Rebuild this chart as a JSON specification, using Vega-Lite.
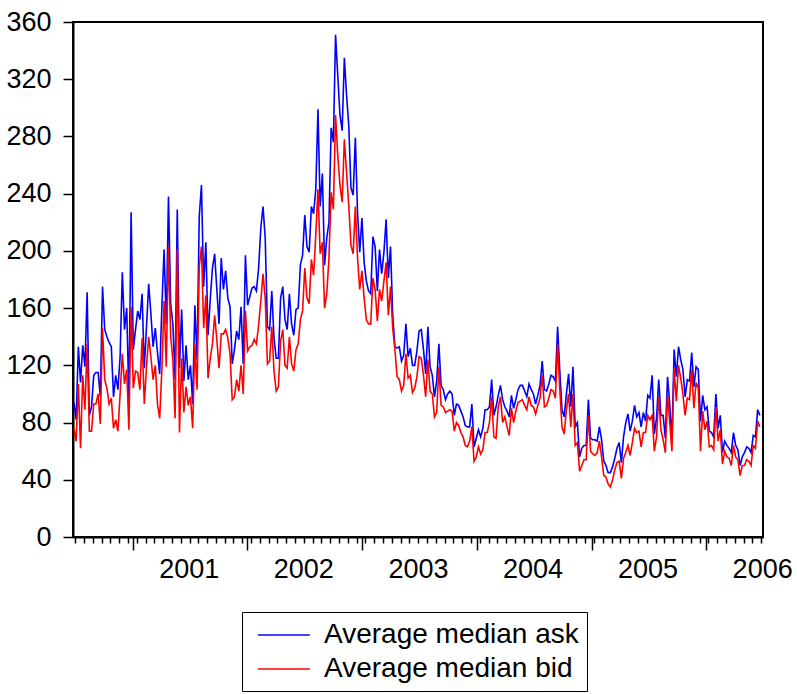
{
"$schema": "https://vega.github.io/schema/vega-lite/v6.json",
"width": 690, "height": 515,
"autosize": "none",
"padding": {"left": 73, "top": 22, "right": 34, "bottom": 157},
"config": {
 "view": {"stroke": "black", "strokeWidth": 2},
 "font": "Liberation Sans",
 "axis": {"grid": false, "domainColor": "black", "domainWidth": 2, "tickColor": "black", "tickWidth": 1.5, "labelColor": "black", "labelFont": "Liberation Sans", "labelFontSize": 27, "title": null}
},
"data": {"values": [
{"date":"2000-06-28","ask":94,"bid":76},{"date":"2000-07-05","ask":82,"bid":67},{"date":"2000-07-12","ask":133,"bid":107},{"date":"2000-07-19","ask":108,"bid":62},{"date":"2000-07-26","ask":134,"bid":113},
{"date":"2000-08-02","ask":119,"bid":89},{"date":"2000-08-09","ask":171,"bid":135},{"date":"2000-08-16","ask":85,"bid":74},{"date":"2000-08-23","ask":91,"bid":74},{"date":"2000-08-30","ask":113,"bid":93},
{"date":"2000-09-06","ask":115,"bid":93},{"date":"2000-09-13","ask":115,"bid":100},{"date":"2000-09-20","ask":98,"bid":79},{"date":"2000-09-27","ask":175,"bid":146},
{"date":"2000-10-04","ask":145,"bid":110},{"date":"2000-10-11","ask":140,"bid":104},{"date":"2000-10-18","ask":136,"bid":93},{"date":"2000-10-25","ask":133,"bid":97},
{"date":"2000-11-01","ask":98,"bid":76},{"date":"2000-11-08","ask":113,"bid":82},{"date":"2000-11-15","ask":103,"bid":74},{"date":"2000-11-22","ask":126,"bid":100},{"date":"2000-11-29","ask":185,"bid":128},
{"date":"2000-12-06","ask":145,"bid":107},{"date":"2000-12-13","ask":160,"bid":117},{"date":"2000-12-20","ask":96,"bid":75},{"date":"2000-12-27","ask":227,"bid":161},
{"date":"2001-01-03","ask":131,"bid":104},{"date":"2001-01-10","ask":145,"bid":116},{"date":"2001-01-17","ask":158,"bid":115},{"date":"2001-01-24","ask":152,"bid":103},{"date":"2001-01-31","ask":170,"bid":139},
{"date":"2001-02-07","ask":118,"bid":93},{"date":"2001-02-14","ask":147,"bid":119},{"date":"2001-02-21","ask":177,"bid":140},{"date":"2001-02-28","ask":156,"bid":126},
{"date":"2001-03-07","ask":133,"bid":110},{"date":"2001-03-14","ask":146,"bid":120},{"date":"2001-03-21","ask":129,"bid":93},{"date":"2001-03-28","ask":114,"bid":83},
{"date":"2001-04-04","ask":161,"bid":117},{"date":"2001-04-11","ask":201,"bid":165},{"date":"2001-04-18","ask":149,"bid":119},{"date":"2001-04-25","ask":238,"bid":203},
{"date":"2001-05-02","ask":163,"bid":140},{"date":"2001-05-09","ask":149,"bid":124},{"date":"2001-05-16","ask":110,"bid":83},{"date":"2001-05-23","ask":229,"bid":201},{"date":"2001-05-30","ask":118,"bid":73},
{"date":"2001-06-06","ask":159,"bid":125},{"date":"2001-06-13","ask":109,"bid":87},{"date":"2001-06-20","ask":134,"bid":105},{"date":"2001-06-27","ask":110,"bid":92},
{"date":"2001-07-04","ask":120,"bid":98},{"date":"2001-07-11","ask":93,"bid":76},{"date":"2001-07-18","ask":162,"bid":135},{"date":"2001-07-25","ask":124,"bid":103},
{"date":"2001-08-01","ask":224,"bid":189},{"date":"2001-08-08","ask":246,"bid":203},{"date":"2001-08-15","ask":175,"bid":146},{"date":"2001-08-22","ask":206,"bid":169},{"date":"2001-08-29","ask":141,"bid":111},
{"date":"2001-09-05","ask":166,"bid":125},{"date":"2001-09-12","ask":188,"bid":135},{"date":"2001-09-19","ask":198,"bid":155},{"date":"2001-09-26","ask":173,"bid":138},
{"date":"2001-10-03","ask":149,"bid":118},{"date":"2001-10-10","ask":195,"bid":142},{"date":"2001-10-17","ask":173,"bid":142},{"date":"2001-10-24","ask":186,"bid":145},{"date":"2001-10-31","ask":167,"bid":139},
{"date":"2001-11-07","ask":161,"bid":128},{"date":"2001-11-14","ask":121,"bid":96},{"date":"2001-11-21","ask":131,"bid":98},{"date":"2001-11-28","ask":144,"bid":110},
{"date":"2001-12-05","ask":138,"bid":102},{"date":"2001-12-12","ask":161,"bid":120},{"date":"2001-12-19","ask":121,"bid":100},{"date":"2001-12-26","ask":197,"bid":158},
{"date":"2002-01-02","ask":162,"bid":130},{"date":"2002-01-09","ask":168,"bid":133},{"date":"2002-01-16","ask":174,"bid":134},{"date":"2002-01-23","ask":175,"bid":138},{"date":"2002-01-30","ask":172,"bid":135},
{"date":"2002-02-06","ask":188,"bid":148},{"date":"2002-02-13","ask":216,"bid":165},{"date":"2002-02-20","ask":231,"bid":184},{"date":"2002-02-27","ask":209,"bid":167},
{"date":"2002-03-06","ask":147,"bid":121},{"date":"2002-03-13","ask":145,"bid":123},{"date":"2002-03-20","ask":172,"bid":147},{"date":"2002-03-27","ask":139,"bid":116},
{"date":"2002-04-03","ask":125,"bid":102},{"date":"2002-04-10","ask":125,"bid":105},{"date":"2002-04-17","ask":167,"bid":137},{"date":"2002-04-24","ask":175,"bid":145},
{"date":"2002-05-01","ask":152,"bid":120},{"date":"2002-05-08","ask":145,"bid":118},{"date":"2002-05-15","ask":170,"bid":140},{"date":"2002-05-22","ask":149,"bid":121},{"date":"2002-05-29","ask":141,"bid":116},
{"date":"2002-06-05","ask":159,"bid":131},{"date":"2002-06-12","ask":160,"bid":135},{"date":"2002-06-19","ask":190,"bid":152},{"date":"2002-06-26","ask":197,"bid":158},
{"date":"2002-07-03","ask":225,"bid":188},{"date":"2002-07-10","ask":203,"bid":167},{"date":"2002-07-17","ask":199,"bid":163},{"date":"2002-07-24","ask":231,"bid":194},{"date":"2002-07-31","ask":226,"bid":183},
{"date":"2002-08-07","ask":243,"bid":211},{"date":"2002-08-14","ask":299,"bid":243},{"date":"2002-08-21","ask":231,"bid":198},{"date":"2002-08-28","ask":254,"bid":206},
{"date":"2002-09-04","ask":190,"bid":160},{"date":"2002-09-11","ask":209,"bid":170},{"date":"2002-09-18","ask":220,"bid":195},{"date":"2002-09-25","ask":286,"bid":241},
{"date":"2002-10-02","ask":276,"bid":229},{"date":"2002-10-09","ask":351,"bid":295},{"date":"2002-10-16","ask":323,"bid":267},{"date":"2002-10-23","ask":295,"bid":246},{"date":"2002-10-30","ask":284,"bid":234},
{"date":"2002-11-06","ask":335,"bid":278},{"date":"2002-11-13","ask":309,"bid":255},{"date":"2002-11-20","ask":288,"bid":232},{"date":"2002-11-27","ask":244,"bid":204},
{"date":"2002-12-04","ask":239,"bid":198},{"date":"2002-12-11","ask":279,"bid":231},{"date":"2002-12-18","ask":227,"bid":195},{"date":"2002-12-25","ask":199,"bid":173},
{"date":"2003-01-01","ask":223,"bid":186},{"date":"2003-01-08","ask":192,"bid":167},{"date":"2003-01-15","ask":179,"bid":152},{"date":"2003-01-22","ask":172,"bid":149},{"date":"2003-01-29","ask":170,"bid":149},
{"date":"2003-02-05","ask":210,"bid":181},{"date":"2003-02-12","ask":203,"bid":173},{"date":"2003-02-19","ask":172,"bid":151},{"date":"2003-02-26","ask":201,"bid":173},
{"date":"2003-03-05","ask":184,"bid":165},{"date":"2003-03-12","ask":199,"bid":179},{"date":"2003-03-19","ask":222,"bid":192},{"date":"2003-03-26","ask":181,"bid":155},
{"date":"2003-04-02","ask":203,"bid":175},{"date":"2003-04-09","ask":155,"bid":146},{"date":"2003-04-16","ask":133,"bid":131},{"date":"2003-04-23","ask":132,"bid":112},{"date":"2003-04-30","ask":133,"bid":110},
{"date":"2003-05-07","ask":123,"bid":102},{"date":"2003-05-14","ask":127,"bid":106},{"date":"2003-05-21","ask":149,"bid":128},{"date":"2003-05-28","ask":126,"bid":111},
{"date":"2003-06-04","ask":132,"bid":113},{"date":"2003-06-11","ask":120,"bid":101},{"date":"2003-06-18","ask":120,"bid":104},{"date":"2003-06-25","ask":130,"bid":112},
{"date":"2003-07-02","ask":144,"bid":126},{"date":"2003-07-09","ask":145,"bid":125},{"date":"2003-07-16","ask":131,"bid":113},{"date":"2003-07-23","ask":114,"bid":98},{"date":"2003-07-30","ask":147,"bid":124},
{"date":"2003-08-06","ask":119,"bid":102},{"date":"2003-08-13","ask":113,"bid":100},{"date":"2003-08-20","ask":98,"bid":84},{"date":"2003-08-27","ask":109,"bid":87},
{"date":"2003-09-03","ask":135,"bid":119},{"date":"2003-09-10","ask":106,"bid":92},{"date":"2003-09-17","ask":103,"bid":91},{"date":"2003-09-24","ask":96,"bid":87},
{"date":"2003-10-01","ask":100,"bid":88},{"date":"2003-10-08","ask":102,"bid":89},{"date":"2003-10-15","ask":100,"bid":88},{"date":"2003-10-22","ask":85,"bid":74},{"date":"2003-10-29","ask":93,"bid":80},
{"date":"2003-11-05","ask":92,"bid":78},{"date":"2003-11-12","ask":88,"bid":73},{"date":"2003-11-19","ask":84,"bid":70},{"date":"2003-11-26","ask":78,"bid":64},
{"date":"2003-12-03","ask":77,"bid":63},{"date":"2003-12-10","ask":77,"bid":67},{"date":"2003-12-17","ask":93,"bid":77},{"date":"2003-12-24","ask":63,"bid":53},{"date":"2003-12-31","ask":69,"bid":56},
{"date":"2004-01-07","ask":75,"bid":63},{"date":"2004-01-14","ask":70,"bid":58},{"date":"2004-01-21","ask":76,"bid":61},{"date":"2004-01-28","ask":89,"bid":73},
{"date":"2004-02-04","ask":89,"bid":73},{"date":"2004-02-11","ask":91,"bid":80},{"date":"2004-02-18","ask":110,"bid":98},{"date":"2004-02-25","ask":85,"bid":70},
{"date":"2004-03-03","ask":91,"bid":69},{"date":"2004-03-10","ask":99,"bid":91},{"date":"2004-03-17","ask":106,"bid":98},{"date":"2004-03-24","ask":96,"bid":80},{"date":"2004-03-31","ask":91,"bid":84},
{"date":"2004-04-07","ask":88,"bid":77},{"date":"2004-04-14","ask":84,"bid":71},{"date":"2004-04-21","ask":99,"bid":90},{"date":"2004-04-28","ask":90,"bid":80},
{"date":"2004-05-05","ask":96,"bid":88},{"date":"2004-05-12","ask":103,"bid":94},{"date":"2004-05-19","ask":106,"bid":95},{"date":"2004-05-26","ask":106,"bid":96},
{"date":"2004-06-02","ask":102,"bid":92},{"date":"2004-06-09","ask":98,"bid":89},{"date":"2004-06-16","ask":107,"bid":98},{"date":"2004-06-23","ask":103,"bid":92},{"date":"2004-06-30","ask":100,"bid":91},
{"date":"2004-07-07","ask":93,"bid":86},{"date":"2004-07-14","ask":99,"bid":92},{"date":"2004-07-21","ask":106,"bid":97},{"date":"2004-07-28","ask":123,"bid":113},
{"date":"2004-08-04","ask":103,"bid":91},{"date":"2004-08-11","ask":102,"bid":92},{"date":"2004-08-18","ask":107,"bid":97},{"date":"2004-08-25","ask":113,"bid":103},
{"date":"2004-09-01","ask":112,"bid":102},{"date":"2004-09-08","ask":109,"bid":97},{"date":"2004-09-15","ask":147,"bid":135},{"date":"2004-09-22","ask":116,"bid":103},{"date":"2004-09-29","ask":89,"bid":77},
{"date":"2004-10-06","ask":84,"bid":72},{"date":"2004-10-13","ask":100,"bid":89},{"date":"2004-10-20","ask":114,"bid":100},{"date":"2004-10-27","ask":91,"bid":77},
{"date":"2004-11-03","ask":119,"bid":100},{"date":"2004-11-10","ask":77,"bid":64},{"date":"2004-11-17","ask":80,"bid":66},{"date":"2004-11-24","ask":56,"bid":46},
{"date":"2004-12-01","ask":62,"bid":50},{"date":"2004-12-08","ask":64,"bid":54},{"date":"2004-12-15","ask":64,"bid":54},{"date":"2004-12-22","ask":96,"bid":85},{"date":"2004-12-29","ask":69,"bid":60},
{"date":"2005-01-05","ask":68,"bid":58},{"date":"2005-01-12","ask":68,"bid":57},{"date":"2005-01-19","ask":67,"bid":59},{"date":"2005-01-26","ask":77,"bid":67},
{"date":"2005-02-02","ask":68,"bid":56},{"date":"2005-02-09","ask":53,"bid":43},{"date":"2005-02-16","ask":50,"bid":42},{"date":"2005-02-23","ask":45,"bid":37},
{"date":"2005-03-02","ask":45,"bid":35},{"date":"2005-03-09","ask":49,"bid":40},{"date":"2005-03-16","ask":55,"bid":47},{"date":"2005-03-23","ask":62,"bid":52},{"date":"2005-03-30","ask":66,"bid":53},
{"date":"2005-04-06","ask":52,"bid":41},{"date":"2005-04-13","ask":70,"bid":55},{"date":"2005-04-20","ask":80,"bid":59},{"date":"2005-04-27","ask":86,"bid":64},
{"date":"2005-05-04","ask":74,"bid":57},{"date":"2005-05-11","ask":81,"bid":66},{"date":"2005-05-18","ask":92,"bid":76},{"date":"2005-05-25","ask":84,"bid":73},
{"date":"2005-06-01","ask":87,"bid":74},{"date":"2005-06-08","ask":77,"bid":63},{"date":"2005-06-15","ask":87,"bid":73},{"date":"2005-06-22","ask":81,"bid":73},{"date":"2005-06-29","ask":99,"bid":85},
{"date":"2005-07-06","ask":97,"bid":82},{"date":"2005-07-13","ask":113,"bid":85},{"date":"2005-07-20","ask":72,"bid":60},{"date":"2005-07-27","ask":83,"bid":70},
{"date":"2005-08-03","ask":110,"bid":98},{"date":"2005-08-10","ask":85,"bid":75},{"date":"2005-08-17","ask":85,"bid":68},{"date":"2005-08-24","ask":69,"bid":59},{"date":"2005-08-31","ask":112,"bid":99},
{"date":"2005-09-07","ask":93,"bid":80},{"date":"2005-09-14","ask":67,"bid":60},{"date":"2005-09-21","ask":131,"bid":118},{"date":"2005-09-28","ask":112,"bid":95},
{"date":"2005-10-05","ask":133,"bid":120},{"date":"2005-10-12","ask":124,"bid":111},{"date":"2005-10-19","ask":117,"bid":100},{"date":"2005-10-26","ask":98,"bid":85},
{"date":"2005-11-02","ask":110,"bid":97},{"date":"2005-11-09","ask":109,"bid":96},{"date":"2005-11-16","ask":129,"bid":117},{"date":"2005-11-23","ask":105,"bid":90},{"date":"2005-11-30","ask":119,"bid":108},
{"date":"2005-12-07","ask":117,"bid":104},{"date":"2005-12-14","ask":81,"bid":60},{"date":"2005-12-21","ask":99,"bid":88},{"date":"2005-12-28","ask":89,"bid":75},
{"date":"2006-01-04","ask":91,"bid":81},{"date":"2006-01-11","ask":74,"bid":63},{"date":"2006-01-18","ask":73,"bid":64},{"date":"2006-01-25","ask":70,"bid":61},
{"date":"2006-02-01","ask":100,"bid":91},{"date":"2006-02-08","ask":76,"bid":67},{"date":"2006-02-15","ask":85,"bid":75},{"date":"2006-02-22","ask":59,"bid":51},
{"date":"2006-03-01","ask":67,"bid":60},{"date":"2006-03-08","ask":64,"bid":56},{"date":"2006-03-15","ask":62,"bid":55},{"date":"2006-03-22","ask":59,"bid":50},{"date":"2006-03-29","ask":73,"bid":64},
{"date":"2006-04-05","ask":64,"bid":56},{"date":"2006-04-12","ask":61,"bid":54},{"date":"2006-04-19","ask":50,"bid":43},{"date":"2006-04-26","ask":56,"bid":50},
{"date":"2006-05-03","ask":59,"bid":50},{"date":"2006-05-10","ask":63,"bid":54},{"date":"2006-05-17","ask":62,"bid":53},{"date":"2006-05-24","ask":59,"bid":50},{"date":"2006-05-31","ask":71,"bid":64},
{"date":"2006-06-07","ask":70,"bid":62},{"date":"2006-06-14","ask":89,"bid":81},{"date":"2006-06-21","ask":85,"bid":77}
]},
"layer": [
 {
  "mark": {"type": "line", "strokeWidth": 1.6},
  "encoding": {
   "x": {"field": "date", "type": "temporal",
    "scale": {"domain": [{"year": 2000, "month": 6, "date": 25}, {"year": 2006, "month": 7, "date": 1}], "nice": false},
    "axis": {"orient": "bottom", "values": [{"year": 2001, "month": 1, "date": 1}, {"year": 2002, "month": 1, "date": 1}, {"year": 2003, "month": 1, "date": 1}, {"year": 2004, "month": 1, "date": 1}, {"year": 2005, "month": 1, "date": 1}, {"year": 2006, "month": 1, "date": 1}],
     "format": "%Y", "tickSize": 13, "labelOffset": 56, "labelPadding": 6, "labelFlush": false, "labelOverlap": false, "domain": false}},
   "y": {"field": "ask", "type": "quantitative",
    "scale": {"domain": [0, 360], "nice": false},
    "axis": {"values": [0, 40, 80, 120, 160, 200, 240, 280, 320, 360], "tickSize": 10, "labelPadding": 12}},
   "color": {"datum": "Average median ask", "type": "nominal",
    "scale": {"domain": ["Average median ask", "Average median bid"], "range": ["#0000ff", "#ff0000"]},
    "legend": {"orient": "none", "legendX": 169, "legendY": 590, "title": null, "direction": "vertical",
     "strokeColor": "black", "padding": 8, "rowPadding": 5, "labelFontSize": 28, "labelFont": "Liberation Sans", "labelColor": "black", "labelLimit": 500,
     "symbolType": "M-0.5,0H3.2", "symbolSize": 784, "symbolStrokeWidth": 1.5, "labelOffset": 44}}
  }
 },
 {
  "mark": {"type": "line", "strokeWidth": 1.6},
  "encoding": {
   "x": {"field": "date", "type": "temporal",
    "axis": {"orient": "bottom", "tickCount": {"interval": "week", "step": 4}, "labels": false, "tickSize": 6, "domain": true}},
   "y": {"field": "bid", "type": "quantitative"},
   "color": {"datum": "Average median bid", "type": "nominal"}
  }
 }
],
"resolve": {"axis": {"x": "independent"}}
}
